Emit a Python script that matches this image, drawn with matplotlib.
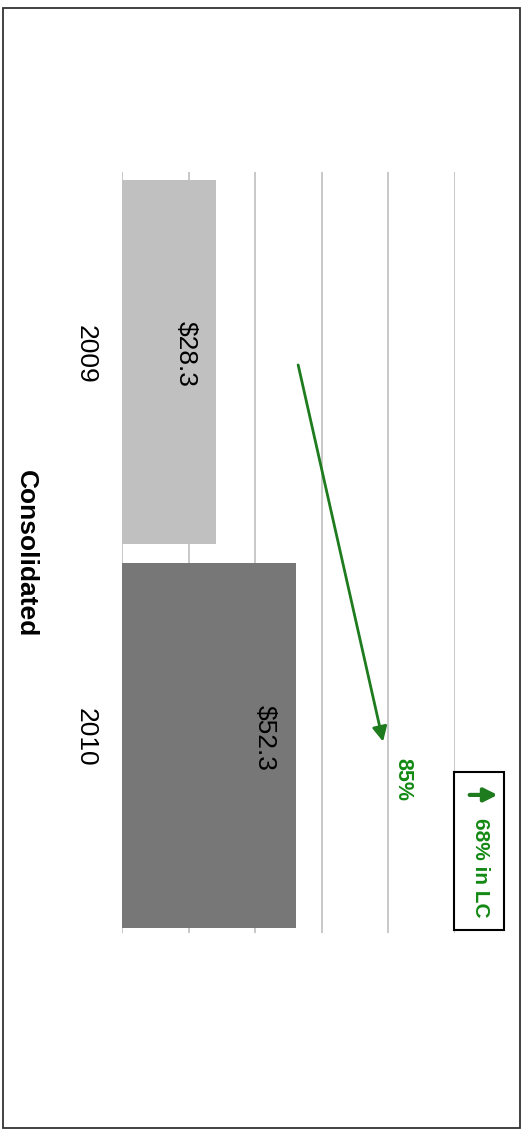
import matplotlib
matplotlib.use('Agg')
import matplotlib.pyplot as plt
from matplotlib.patches import Rectangle

# data
years = ['2009', '2010']
values = [28.3, 52.3]
labels = ['$28.3', '$52.3']
bar_colors = ['#c0c0c0', '#777777']
grid_ticks = [0, 20, 40, 60, 80, 100]
growth_label = '85%'
lc_label = '68% in LC'
group_label = 'Consolidated'

FONT = ['Liberation Sans', 'DejaVu Sans']
GREEN = '#138a13'

fig = plt.figure(figsize=(5.27, 11.31), dpi=100)
fig.patch.set_facecolor('white')

# outer frame
fig.patches.append(Rectangle((3/527, 3/1131), 517/527, 1120/1131,
                             transform=fig.transFigure, fill=False,
                             edgecolor='#333333', linewidth=1.3))

ax = fig.add_axes([122/527, 198/1131, 333/527, 761/1131])
ypos = list(range(len(years)))
ax.barh(ypos, values, height=0.95, color=bar_colors, zorder=2)
ax.set_xlim(0, 100)
ax.set_ylim(1.489, -0.495)
for g in grid_ticks:
	ax.axvline(g, color='#c4c4c4', linewidth=1.3, zorder=1)
for s in ax.spines.values():
	s.set_visible(False)
ax.set_xticks([])
ax.set_yticks([])

# value labels near the bar ends, rotated like the whole chart
for y, v, t in zip(ypos, values, labels):
	ax.text(v - 9.3, y - 0.02, t, rotation=-90, ha='center', va='center',
			fontsize=19, family=FONT, color='black', zorder=3)

# category labels
for y, yr in zip(ypos, years):
	ax.text(-11, y - 0.02, yr, rotation=-90, ha='center', va='center',
			fontsize=19, family=FONT, clip_on=False)
ax.text(-29, 0.5, group_label, rotation=-90, ha='center', va='center',
		fontsize=19, fontweight='bold', family=FONT, clip_on=False)

# growth arrow
ax.annotate('', xy=(78.4, 0.99), xytext=(52.9, 0.008),
			arrowprops=dict(arrowstyle='-|>', color='#1e7b1e', lw=2,
							mutation_scale=22, shrinkA=0, shrinkB=0),
			zorder=4)
ax.text(84.4, 1.09, growth_label, rotation=-90, ha='center', va='center',
		fontsize=15.5, fontweight='bold', family=FONT, color=GREEN)

# boxed note
ax.add_patch(Rectangle((99.7, 1.07), 15.0, 0.41, fill=False,
					   edgecolor='black', linewidth=1.5, clip_on=False,
					   zorder=4))
ax.annotate('', xy=(112.8, 1.129), xytext=(104.4, 1.129),
			arrowprops=dict(arrowstyle='-|>', color='#1e7b1e', lw=3,
							mutation_scale=20, shrinkA=0, shrinkB=0),
			annotation_clip=False)
ax.text(107.6, 1.32, lc_label, rotation=-90, ha='center', va='center',
		fontsize=15, fontweight='bold', family=FONT, color=GREEN,
		clip_on=False)

fig.savefig('out.png', dpi=100)
